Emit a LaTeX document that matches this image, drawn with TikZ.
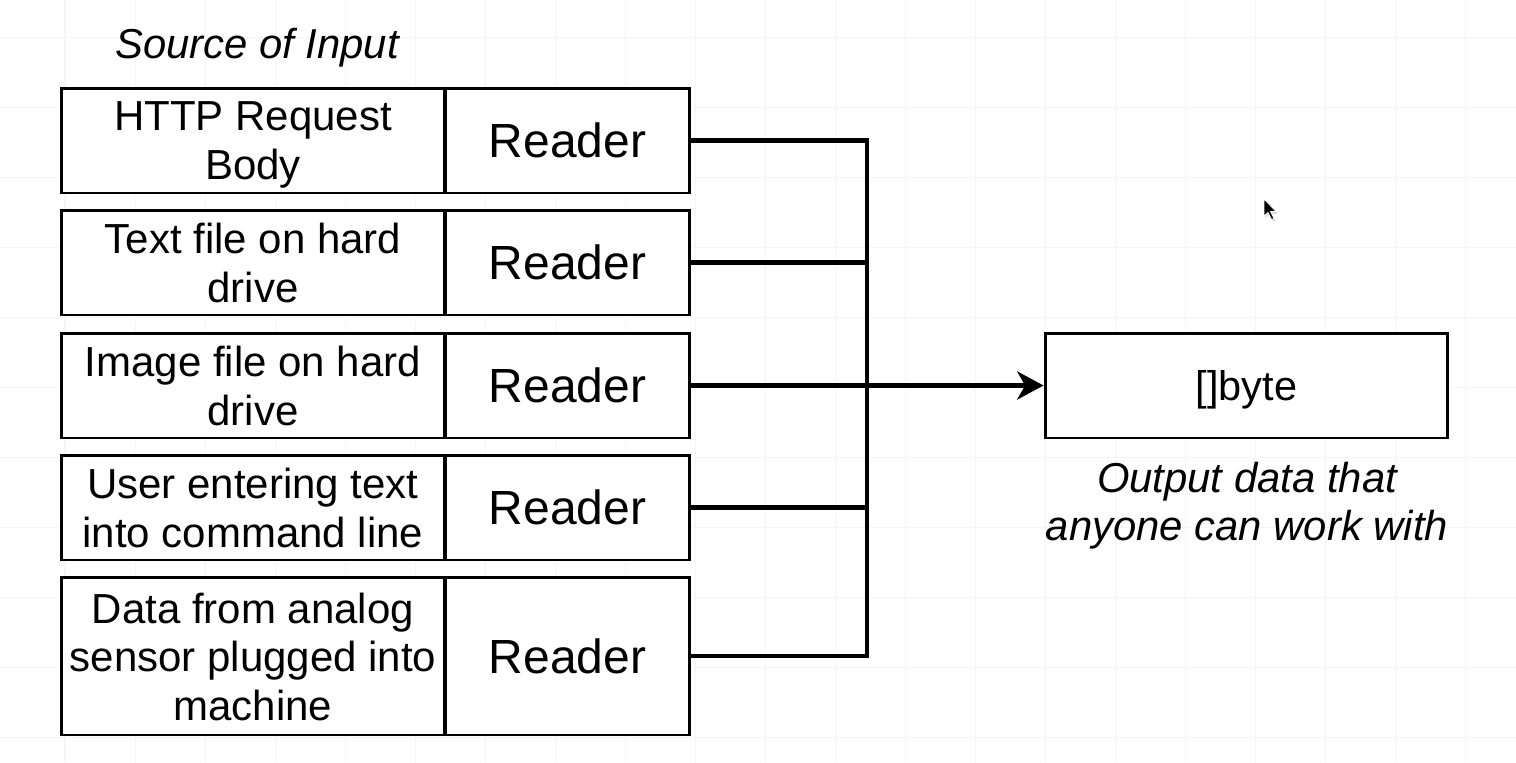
\documentclass[tikz,border=0pt]{standalone}
\usepackage{fontspec}
\setmainfont{Liberation Sans}
\usetikzlibrary{arrows.meta}
% fixed line height so every box line sits at the same spot
\newcommand{\ls}{\rule[-3.7pt]{0pt}{25.3pt}}
\begin{document}
\begin{tikzpicture}[x=0.02cm,y=-0.02cm,
  gridline/.style={draw=black!4, line width=0.57pt},
  box/.style={draw, fill=white, line width=1.7pt, rectangle, inner sep=0pt, align=center},
  srcbox/.style={box, minimum width=7.68cm, minimum height=2.1cm,
    font=\fontsize{23.9}{27.6}\selectfont},
  readerbox/.style={box, minimum width=4.9cm, minimum height=2.1cm,
    font=\fontsize{27.3}{32}\selectfont},
  outbox/.style={box, minimum width=8.06cm, minimum height=2.1cm,
    font=\fontsize{23.6}{27.6}\selectfont},
  caption/.style={inner sep=0pt, align=center, font=\itshape\fontsize{23.8}{27.3}\selectfont},
  wire/.style={draw, line width=2.3pt, line join=miter},
  flowtip/.style={-{Stealth[length=15pt,width=16pt,inset=4.5pt]}}
]
% page area
\useasboundingbox (0,0) rectangle (1516,762);
\fill[white] (0,0) rectangle (1516,762);

% faint background grid
\foreach \gx in {65,135,...,1465} \draw[gridline] (\gx,0) -- (\gx,762);
\foreach \gy in {37,107,...,737} \draw[gridline] (0,\gy) -- (1516,\gy);

% heading over the sources
\node[caption] (srclabel) at (257,48) {Source of Input};

% sources and their readers
\node[srcbox] (s1) at (253,140.5) {\ls HTTP Request\\\ls Body};
\node[readerbox] (r1) at (567.5,140.5) {Reader};
\node[srcbox] (s2) at (253,262.5) {\ls Text file on hard\\\ls drive};
\node[readerbox] (r2) at (567.5,262.5) {Reader};
\node[srcbox] (s3) at (253,385.5) {\ls Image file on hard\\\ls drive};
\node[readerbox] (r3) at (567.5,385.5) {Reader};
\node[srcbox] (s4) at (253,507.5) {\ls User entering text\\\ls into command line};
\node[readerbox] (r4) at (567.5,507.5) {Reader};
\node[srcbox, minimum height=3.16cm] (s5) at (253,656) {\ls Data from analog\\\ls sensor plugged into\\\ls machine};
\node[readerbox, minimum height=3.16cm] (r5) at (567.5,656) {Reader};

% output
\node[outbox] (out) at (1246.5,385.5) {\ls[]byte};
\node[caption] (outlabel) at (1247,506) {Output data that\\anyone can work with};

% collecting bus
\coordinate (bus) at (867,0);
\draw[wire] (r1.east) -- (r1.east -| bus) -- (r5.east -| bus) -- (r5.east);
\draw[wire] (r2.east) -- (r2.east -| bus);
\draw[wire] (r4.east) -- (r4.east -| bus);
\draw[wire, flowtip] (r3.east) -- (out.west);

% mouse pointer
\fill[black!60, opacity=0.25] (1265.5,201) -- (1265.5,218) -- (1269.5,214.5) -- (1273,221.5) -- (1275.5,220.5) -- (1272,213.5) -- (1277.5,213.5) -- cycle;
\filldraw[fill=black, draw=white, line width=0.4pt] (1264,199) -- (1264,216) -- (1268,212.5) -- (1271.5,219.5) -- (1274,218.5) -- (1270.5,211.5) -- (1276,211.5) -- cycle;
\end{tikzpicture}
\end{document}
